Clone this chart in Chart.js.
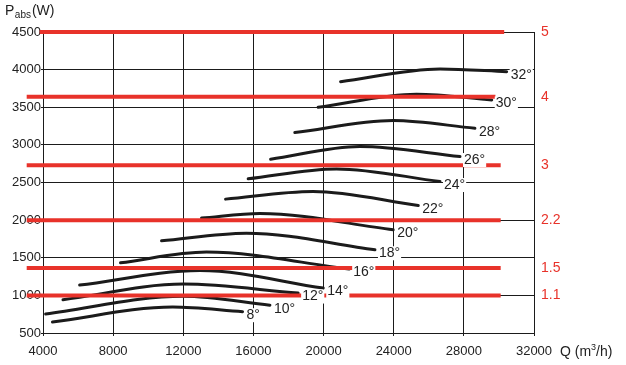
<!DOCTYPE html>
<html>
<head>
<meta charset="utf-8">
<script src="https://cdn.jsdelivr.net/npm/chart.js@4.4.0/dist/chart.umd.min.js"></script>
<style>
  body { margin: 0; background: #fff; }
</style>
</head>
<body>
<canvas id="curvasPotencia" width="626" height="365"></canvas>
<script>
// angulos de los alabes y sus curvas Q (m3/h) -> P (W)
const angulos = ['8°', '10°', '12°', '14°', '16°', '18°', '20°', '22°', '24°', '26°', '28°', '30°', '32°'];
const caudales = [
  [4540, 11400, 15380],
  [4150, 12000, 16940],
  [5140, 12000, 18550],
  [6090, 12950, 19980],
  [8420, 13320, 21460],
  [10760, 15600, 22930],
  [13040, 16370, 23970],
  [14410, 19400, 25400],
  [15700, 20740, 26640],
  [16980, 22070, 27780],
  [18360, 23970, 28630],
  [19690, 25300, 29590],
  [20970, 26640, 30440]
];
const potencias = [
  [646, 845, 783],
  [752, 990, 870],
  [942, 1150, 1031],
  [1137, 1330, 1097],
  [1433, 1575, 1350],
  [1725, 1827, 1606],
  [2027, 2088, 1872],
  [2279, 2380, 2194],
  [2549, 2681, 2513],
  [2810, 2978, 2845],
  [3163, 3323, 3221],
  [3500, 3673, 3597],
  [3840, 4009, 3973]
];

// lineas rojas de potencia del motor (kW)
const nivelesMotor = [4500, 3640, 2730, 2000, 1365, 1000];
const etiquetasMotor = ['5', '4', '3', '2.2', '1.5', '1.1'];
const motorDesde = [3810, 3070, 3070, 3070, 3070, 3070];
const motorHasta = [30300, 29800, 30100, 30100, 30100, 30100];

const rojo = '#e8322a';
const negro = '#1b1b1b';
const fuente = "'Liberation Sans', Arial, sans-serif";

const datasets = [];
for (let i = 0; i < nivelesMotor.length; i++) {
  datasets.push({
    label: 'motor ' + etiquetasMotor[i],
    data: [{x: motorDesde[i], y: nivelesMotor[i]}, {x: motorHasta[i], y: nivelesMotor[i]}],
    borderColor: rojo,
    borderWidth: 4,
    pointRadius: 0,
    clip: false
  });
}
for (let i = 0; i < angulos.length; i++) {
  const puntos = [];
  for (let j = 0; j < caudales[i].length; j++) {
    puntos.push({x: caudales[i][j], y: potencias[i][j]});
  }
  datasets.push({
    label: angulos[i],
    data: puntos,
    borderColor: negro,
    borderWidth: 3,
    borderCapStyle: 'round',
    cubicInterpolationMode: 'monotone',
    pointRadius: 0
  });
}

const textos = {
  id: 'textos',
  afterDatasetsDraw(chart) {
    const ctx = chart.ctx;
    ctx.save();
    ctx.textBaseline = 'middle';
    ctx.textAlign = 'left';
    ctx.font = '14px ' + fuente;
    for (let i = 0; i < angulos.length; i++) {
      const meta = chart.getDatasetMeta(nivelesMotor.length + i);
      const fin = meta.data[meta.data.length - 1];
      const x = fin.x + 4;
      const y = fin.y + 3.5;
      const w = ctx.measureText(angulos[i]).width;
      ctx.fillStyle = '#fff';
      ctx.fillRect(x - 1, y - 7, w + 2, 14);
      ctx.fillStyle = '#222';
      ctx.fillText(angulos[i], x, y);
    }

    // titulo eje y: Pabs(W)
    ctx.textBaseline = 'alphabetic';
    ctx.fillStyle = '#222';
    ctx.font = '14px ' + fuente;
    ctx.fillText('P', 5, 15);
    let x = 5 + ctx.measureText('P').width;
    ctx.font = '10px ' + fuente;
    ctx.fillText('abs', x + 0.5, 18);
    x += ctx.measureText('abs').width + 1.5;
    ctx.font = '14px ' + fuente;
    ctx.fillText('(W)', x, 15);

    // titulo eje x: Q (m3/h)
    const base = 356;
    let qx = 560;
    ctx.fillText('Q (m', qx, base);
    qx += ctx.measureText('Q (m').width;
    ctx.font = '9px ' + fuente;
    ctx.fillText('3', qx, base - 6);
    qx += ctx.measureText('3').width;
    ctx.font = '14px ' + fuente;
    ctx.fillText('/h)', qx, base);
    ctx.restore();
  }
};

new Chart(document.getElementById('curvasPotencia'), {
  type: 'line',
  data: { datasets: datasets },
  options: {
    responsive: false,
    animation: false,
    devicePixelRatio: 1,
    layout: { padding: { top: 32, left: 0, right: 0, bottom: 0 } },
    plugins: {
      legend: { display: false },
      tooltip: { enabled: false }
    },
    scales: {
      x: {
        type: 'linear',
        min: 4000,
        max: 32000,
        afterFit: (s) => { s.height = 32; },
        ticks: {
          stepSize: 4000,
          color: '#222',
          font: { family: fuente, size: 13 },
          padding: 8,
          maxRotation: 0,
          callback: (v) => String(v)
        },
        grid: { color: negro, lineWidth: 1, tickLength: 3 },
        border: { color: negro }
      },
      y: {
        type: 'linear',
        min: 500,
        max: 4500,
        afterFit: (s) => { s.width = 43; },
        ticks: {
          stepSize: 500,
          color: '#222',
          font: { family: fuente, size: 13 },
          padding: 0,
          callback: (v) => String(v)
        },
        grid: { color: negro, lineWidth: 1, tickLength: 2 },
        border: { color: negro }
      },
      motor: {
        type: 'linear',
        position: 'right',
        min: 500,
        max: 4500,
        afterFit: (s) => { s.width = 92; },
        afterBuildTicks: (s) => { s.ticks = nivelesMotor.map((v) => ({value: v})); },
        ticks: {
          autoSkip: false,
          color: rojo,
          font: { family: fuente, size: 14 },
          padding: 7,
          callback: (v) => etiquetasMotor[nivelesMotor.indexOf(v)]
        },
        grid: { display: false, drawTicks: false },
        border: { display: false }
      }
    }
  },
  plugins: [textos]
});
</script>
</body>
</html>
